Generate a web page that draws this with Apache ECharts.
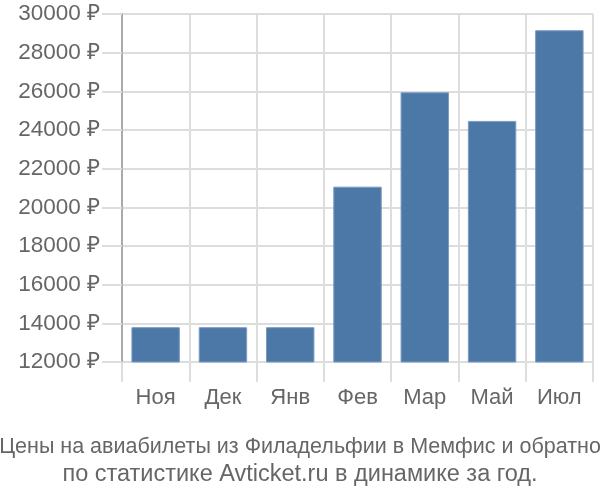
<!DOCTYPE html>
<html><head><meta charset="utf-8">
<script src="https://cdn.jsdelivr.net/npm/echarts@6/dist/echarts.min.js"></script>
<style>html,body{margin:0;padding:0;background:#fff}#c{width:600px;height:500px}</style>
</head><body><div id="c"></div>
<script>
const categories = ["Ноя","Дек","Янв","Фев","Мар","Май","Июл"];
const prices = [13800, 13800, 13800, 21070, 25950, 24470, 29160];
const titleLines = ["Цены на авиабилеты из Филадельфии в Мемфис и обратно","по статистике Avticket.ru в динамике за год."];
const yMin = 12000, yMax = 30000, yStep = 2000;

const chart = echarts.init(document.getElementById('c'));
chart.setOption({
  animation: false,
  title: {
    text: '{a|' + titleLines[0] + '}\n{b|' + titleLines[1] + '}',
    left: 'center', top: 429,
    textStyle: {
      fontFamily: 'Liberation Sans, Arial', fontWeight: 'normal', color: '#666',
      rich: {
        a: {fontFamily: 'Liberation Sans, Arial', fontSize: 21.5, color: '#666', lineHeight: 27, align: 'center'},
        b: {fontFamily: 'Liberation Sans, Arial', fontSize: 23.5, color: '#666', lineHeight: 27, align: 'center'}
      }
    }
  },
  grid: {left: 122, right: 7, top: 14, bottom: 138},
  xAxis: {
    type: 'category', data: categories,
    axisLine: {show: false},
    axisTick: {show: true, length: 20, alignWithLabel: false, lineStyle: {color: '#ddd', width: 2}},
    splitLine: {show: true, lineStyle: {color: '#ddd', width: 2}},
    axisLabel: {fontFamily: 'Liberation Sans, Arial', fontSize: 22, color: '#666', margin: 25}
  },
  yAxis: {
    type: 'value', min: yMin, max: yMax, interval: yStep,
    axisLine: {show: true, lineStyle: {color: '#aaa', width: 2}},
    axisTick: {show: true, length: 20, lineStyle: {color: '#ddd', width: 2}},
    splitLine: {show: true, lineStyle: {color: '#ddd', width: 2}},
    axisLabel: {fontFamily: 'Liberation Sans, Arial', fontSize: 22.5, color: '#666', margin: 22,
      formatter: v => v + ' ₽'}
  },
  series: [{
    type: 'bar', data: prices, barCategoryGap: '28%',
    itemStyle: {color: '#4c78a8', borderColor: '#7b9cc2', borderWidth: 1}
  }]
});
</script></body></html>
